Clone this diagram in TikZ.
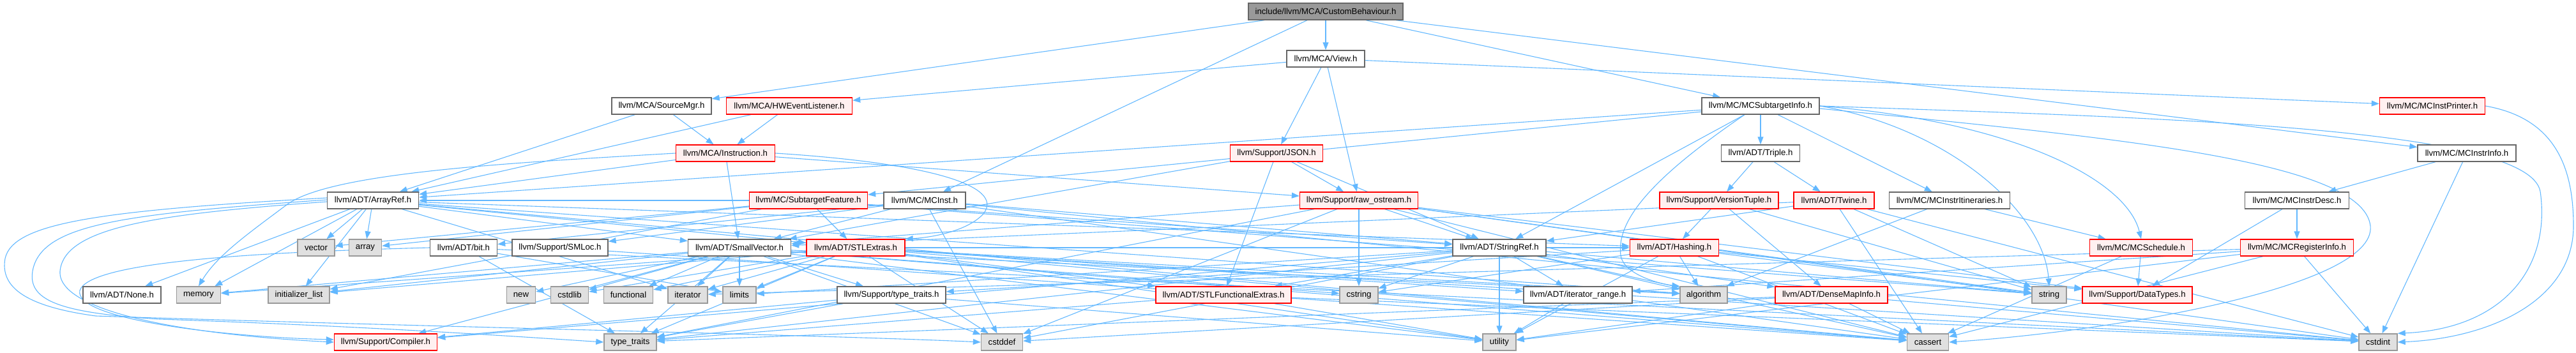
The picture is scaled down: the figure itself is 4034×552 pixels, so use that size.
\documentclass[tikz,border=0pt]{standalone}
\usepackage{fontspec}
\setmainfont{Liberation Sans}
\usetikzlibrary{arrows.meta}
\definecolor{edgec}{HTML}{63B8FF}
\definecolor{sysfill}{HTML}{E0E0E0}
\definecolor{sysdraw}{HTML}{999999}
\definecolor{nrmdraw}{HTML}{666666}
\definecolor{trfill}{HTML}{FFF0F0}
\definecolor{trdraw}{HTML}{FF0000}
\definecolor{rootfill}{HTML}{999999}
\pgfdeclarelayer{edgelayer}
\pgfsetlayers{edgelayer,main}
\begin{document}
\begin{tikzpicture}[x=1pt,y=-1pt,
  nbase/.style={rectangle, line width=1.4pt, minimum height=26pt, inner sep=0pt, font=\fontsize{13.2}{16}\selectfont},
  nrm/.style={nbase, draw=nrmdraw, fill=white},
  sys/.style={nbase, draw=sysdraw, fill=sysfill},
  trunc/.style={nbase, draw=trdraw, fill=trfill},
  rootn/.style={nbase, draw=nrmdraw, fill=rootfill},
  e/.style={draw=edgec, line width=1.1pt, -{Triangle[length=12pt,width=9pt]}},
]
\useasboundingbox (0,0) rectangle (4034,552);
% row 1
\node[rootn, minimum width=242pt] (CB) at (2076,18) {include/llvm/MCA/CustomBehaviour.h};
% row 2
\node[nrm, minimum width=122pt] (View) at (2076,92) {llvm/MCA/View.h};
% row 3
\node[nrm, minimum width=156pt] (SrcMgr) at (1036,166) {llvm/MCA/SourceMgr.h};
\node[trunc, minimum width=197pt] (HWEL) at (1236,166) {llvm/MCA/HWEventListener.h};
\node[nrm, minimum width=184pt] (MCSTI) at (2757,166) {llvm/MC/MCSubtargetInfo.h};
\node[trunc, minimum width=165pt] (MCIP) at (3809,166) {llvm/MC/MCInstPrinter.h};
% row 4
\node[trunc, minimum width=155pt] (Instr) at (1136,240) {llvm/MCA/Instruction.h};
\node[trunc, minimum width=145pt] (JSON) at (1999,240) {llvm/Support/JSON.h};
\node[nrm, minimum width=123pt] (Triple) at (2757,240) {llvm/ADT/Triple.h};
\node[nrm, minimum width=154pt] (MCII) at (3863,240) {llvm/MC/MCInstrInfo.h};
% row 5
\node[nrm, minimum width=143pt] (ArrayRef) at (584,314) {llvm/ADT/ArrayRef.h};
\node[trunc, minimum width=185pt] (SubFeat) at (1266,314) {llvm/MC/SubtargetFeature.h};
\node[nrm, minimum width=128pt] (MCInst) at (1448,314) {llvm/MC/MCInst.h};
\node[trunc, minimum width=185pt] (rawos) at (2128,314) {llvm/Support/raw\_ostream.h};
\node[trunc, minimum width=186pt] (VerTup) at (2692,314) {llvm/Support/VersionTuple.h};
\node[trunc, minimum width=126pt] (Twine) at (2872,314) {llvm/ADT/Twine.h};
\node[nrm, minimum width=189pt] (MCItin) at (3053,314) {llvm/MC/MCInstrItineraries.h};
\node[nrm, minimum width=163pt] (MCIDesc) at (3597,314) {llvm/MC/MCInstrDesc.h};
% row 6
\node[sys, minimum width=58pt] (vector) at (495,388) {vector};
\node[sys, minimum width=51pt] (array) at (572,388) {array};
\node[nrm, minimum width=105pt] (bit) at (726,388) {llvm/ADT/bit.h};
\node[nrm, minimum width=150pt] (SMLoc) at (877,388) {llvm/Support/SMLoc.h};
\node[nrm, minimum width=161pt] (SmallVec) at (1158,388) {llvm/ADT/SmallVector.h};
\node[trunc, minimum width=154pt] (STLExt) at (1340,388) {llvm/ADT/STLExtras.h};
\node[nrm, minimum width=146pt] (StrRef) at (2348,388) {llvm/ADT/StringRef.h};
\node[trunc, minimum width=139pt] (Hashing) at (2622,388) {llvm/ADT/Hashing.h};
\node[trunc, minimum width=161pt] (MCSched) at (3353,388) {llvm/MC/MCSchedule.h};
\node[trunc, minimum width=177pt] (MCRegI) at (3597,388) {llvm/MC/MCRegisterInfo.h};
% row 7
\node[nrm, minimum width=122pt] (None) at (191,462) {llvm/ADT/None.h};
\node[sys, minimum width=69pt] (memory) at (311,462) {memory};
\node[sys, minimum width=96pt] (initlist) at (468,462) {initializer\_list};
\node[sys, minimum width=45pt] (new) at (816,462) {new};
\node[sys, minimum width=59pt] (cstdlib) at (892,462) {cstdlib};
\node[sys, minimum width=77pt] (functional) at (984,462) {functional};
\node[sys, minimum width=62pt] (iterator) at (1077,462) {iterator};
\node[sys, minimum width=52pt] (limits) at (1158,462) {limits};
\node[nrm, minimum width=170pt] (ttraitsh) at (1396,462) {llvm/Support/type\_traits.h};
\node[trunc, minimum width=212pt] (STLFE) at (1916,462) {llvm/ADT/STLFunctionalExtras.h};
\node[sys, minimum width=60pt] (cstring) at (2128,462) {cstring};
\node[nrm, minimum width=170pt] (itrange) at (2471,462) {llvm/ADT/iterator\_range.h};
\node[sys, minimum width=74pt] (algorithm) at (2668,462) {algorithm};
\node[trunc, minimum width=176pt] (DMI) at (2868,462) {llvm/ADT/DenseMapInfo.h};
\node[sys, minimum width=54pt] (string) at (3209,462) {string};
\node[trunc, minimum width=172pt] (DataTypes) at (3347,462) {llvm/Support/DataTypes.h};
% row 8
\node[trunc, minimum width=161pt] (Compiler) at (604,536) {llvm/Support/Compiler.h};
\node[sys, minimum width=82pt] (ttraits) at (987,536) {type\_traits};
\node[sys, minimum width=65pt] (cstddef) at (1569,536) {cstddef};
\node[sys, minimum width=52pt] (utility) at (2348,536) {utility};
\node[sys, minimum width=65pt] (cassert) at (3019,536) {cassert};
\node[sys, minimum width=60pt] (cstdint) at (3724,536) {cstdint};

\begin{pgfonlayer}{edgelayer}
\foreach \t in {SrcMgr,View,MCInst,MCSTI,MCII} \draw[e] (CB) -- (\t);
\foreach \t in {MCIP,HWEL,JSON,rawos} \draw[e] (View) -- (\t);
\foreach \t in {ArrayRef,Instr} \draw[e] (SrcMgr) -- (\t);
\foreach \t in {ArrayRef,Instr} \draw[e] (HWEL) -- (\t);
\foreach \t in {ArrayRef,SmallVec,rawos} \draw[e] (Instr) -- (\t);
\draw[e] (Instr.east) .. controls (1450,255) and (1575,290) .. (1540,335) .. controls (1515,362) and (1460,372) .. (STLExt.north east);
\draw[e] (Instr.west) .. controls (800,255) and (520,270) .. (450,320) .. controls (390,365) and (340,400) .. (memory.north);
\foreach \t in {ArrayRef,SubFeat,StrRef,Triple,MCItin} \draw[e] (MCSTI) -- (\t);
\draw[e] (MCSTI.east) .. controls (3050,200) and (3200,330) .. (string.north);
\draw[e] (MCSTI.east) .. controls (3150,190) and (3330,280) .. (MCSched.north);
\draw[e] ([xshift=-25pt]MCSTI.south) .. controls (2600,270) and (2530,340) .. (2538,400) .. controls (2542,430) and (2600,445) .. (algorithm.north west);
\draw[e] (MCSTI.east) .. controls (3400,185) and (3960,200) .. (3978,300) .. controls (3995,420) and (3920,515) .. (cstdint.north east);
\draw[e] ([yshift=-4pt]MCSTI.east) .. controls (3300,215) and (3700,250) .. (3712,354) .. controls (3722,450) and (3300,520) .. (cassert.east);
\draw[e] (MCIP.east) .. controls (4000,185) and (4030,260) .. (4030,354) .. controls (4030,470) and (3900,530) .. (cstdint.east);
\foreach \t in {rawos,SmallVec,StrRef,STLFE} \draw[e] (JSON) -- (\t);
\foreach \t in {Twine,VerTup} \draw[e] (Triple) -- (\t);
\foreach \t in {MCIDesc,cstdint} \draw[e] (MCII) -- (\t);
\foreach \t in {MCRegI,DataTypes} \draw[e] (MCIDesc) -- (\t);
\foreach \t in {cstdint,cassert,utility,itrange,iterator} \draw[e] (MCRegI) -- (\t);
\foreach \t in {DataTypes,cassert} \draw[e] (MCSched) -- (\t);
\foreach \t in {MCSched,algorithm} \draw[e] (MCItin) -- (\t);
\foreach \t in {ArrayRef,STLExt,StrRef,array,initlist,string,vector} \draw[e] (SubFeat) -- (\t);
\foreach \t in {SmallVec,StrRef,bit,SMLoc,cassert,cstddef,cstdint} \draw[e] (MCInst) -- (\t);
\foreach \t in {SmallVec,StrRef,DataTypes,cassert,cstddef,cstdint,cstring,string,ttraits} \draw[e] (rawos) -- (\t);
\foreach \t in {DMI,Hashing,string} \draw[e] (VerTup) -- (\t);
\foreach \t in {SmallVec,StrRef,cassert,cstdint,string} \draw[e] (Twine) -- (\t);
\foreach \t in {Hashing,None,STLExt,SmallVec,algorithm,array,cassert,initlist,iterator,memory,vector} \draw[e] (ArrayRef) -- (\t);
\draw[e] ([yshift=4pt]ArrayRef.west) .. controls (150,330) and (20,350) .. (8,405) .. controls (0,450) and (40,480) .. (150,495) .. controls (600,510) and (1300,525) .. (cstddef.west);
\draw[e] ([yshift=1pt]ArrayRef.west) .. controls (200,335) and (70,350) .. (52,420) .. controls (40,470) and (90,490) .. (250,500) .. controls (600,512) and (850,530) .. (ttraits.west);
\draw[e] ([yshift=-2pt]ArrayRef.west) .. controls (250,335) and (100,355) .. (94,425) .. controls (90,490) and (300,525) .. (Compiler.west);
\draw[e] (bit.west) .. controls (400,395) and (140,410) .. (125,455) .. controls (115,500) and (350,528) .. ([yshift=4pt]Compiler.west);
\foreach \t in {cstdint,limits,ttraits} \draw[e] (bit) -- (\t);
\draw[e] (SMLoc) -- (cassert);
\foreach \t in {Compiler,ttraitsh,algorithm,cassert,cstddef,cstdlib,cstring,functional,initlist,iterator,limits,memory,new,ttraits,utility} \draw[e] (SmallVec) -- (\t);
\foreach \t in {Hashing,STLFE,itrange,algorithm,cassert,cstddef,cstdint,cstdlib,functional,initlist,iterator,limits,memory,ttraits,utility} \draw[e] (STLExt) -- (\t);
\foreach \t in {DMI,STLFE,itrange,Compiler,algorithm,cassert,cstddef,cstring,limits,string,ttraits,utility} \draw[e] (StrRef) -- (\t);
\foreach \t in {DataTypes,ttraitsh,algorithm,cassert,cstring,string,utility} \draw[e] (Hashing) -- (\t);
\foreach \t in {Compiler,ttraits,utility} \draw[e] (ttraitsh) -- (\t);
\foreach \t in {cstdint,ttraits,utility} \draw[e] (STLFE) -- (\t);
\draw[e] (itrange) -- (utility);
\foreach \t in {cassert,cstddef,cstdint,ttraits,utility} \draw[e] (DMI) -- (\t);
\end{pgfonlayer}
\end{tikzpicture}
\end{document}
